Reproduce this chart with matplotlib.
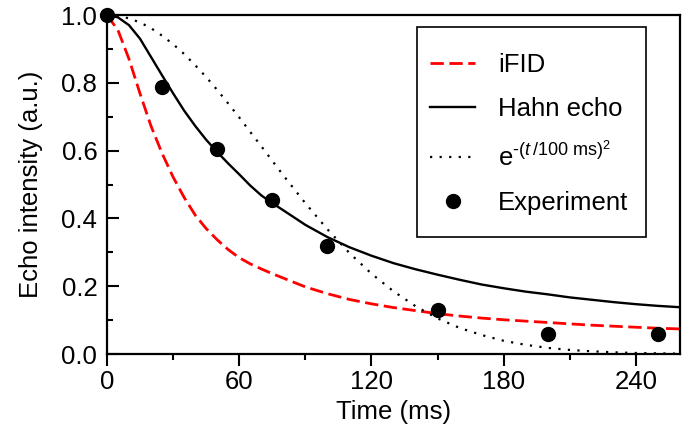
import matplotlib
matplotlib.use("Agg")
import matplotlib.pyplot as plt
from matplotlib.patches import Rectangle
from matplotlib.ticker import MultipleLocator, FormatStrFormatter

plt.rcParams['font.family'] = ['Liberation Sans', 'DejaVu Sans']
plt.rcParams['mathtext.fontset'] = 'custom'
plt.rcParams['mathtext.rm'] = 'Liberation Sans'
plt.rcParams['mathtext.it'] = 'Liberation Sans:italic'
plt.rcParams['mathtext.bf'] = 'Liberation Sans:bold'

# curve sample times (ms)
t_curve = [0, 5, 10, 15, 20, 25, 30, 35, 40, 45, 50, 55, 60, 65, 70, 75, 80, 90, 100,
           110, 120, 130, 140, 150, 160, 170, 180, 190, 200, 210, 220, 230, 240, 250, 260]

ifid = [1.0, 0.955, 0.87, 0.768, 0.672, 0.592, 0.522, 0.462, 0.41, 0.37, 0.337, 0.308, 0.284,
        0.266, 0.251, 0.237, 0.224, 0.198, 0.178, 0.161, 0.148, 0.137, 0.128, 0.119, 0.112,
        0.106, 0.101, 0.097, 0.093, 0.089, 0.085, 0.082, 0.079, 0.076, 0.074]

hahn = [1.0, 0.993, 0.97, 0.93, 0.876, 0.822, 0.769, 0.718, 0.673, 0.632, 0.596, 0.562, 0.53,
        0.497, 0.468, 0.445, 0.424, 0.381, 0.345, 0.315, 0.29, 0.268, 0.25, 0.234, 0.219,
        0.205, 0.194, 0.184, 0.176, 0.167, 0.16, 0.153, 0.147, 0.142, 0.138]

gauss = [1.0, 0.998, 0.990, 0.978, 0.961, 0.939, 0.914, 0.885, 0.852, 0.817, 0.779, 0.739,
         0.698, 0.655, 0.613, 0.570, 0.527, 0.445, 0.368, 0.298, 0.237, 0.185, 0.141, 0.105,
         0.077, 0.056, 0.039, 0.027, 0.018, 0.012, 0.008, 0.005, 0.003, 0.002, 0.001]

t_exp = [0, 25, 50, 75, 100, 150, 200, 250]
v_exp = [1.0, 0.787, 0.605, 0.455, 0.32, 0.13, 0.058, 0.058]

legend_labels = ['iFID', 'Hahn echo',
                 r'$\mathrm{e}^{\text{-}(\mathit{t}\,/100\ \mathrm{ms})^2}$', 'Experiment']

fig = plt.figure(figsize=(6.92, 4.34), dpi=100)
ax = fig.add_axes([0.1546, 0.1843, 0.8281, 0.7811])

ax.plot(t_curve, ifid, color='#ff0000', lw=2.0, dashes=(4.8, 2.0), label=legend_labels[0])
ax.plot(t_curve, hahn, color='black', lw=1.7, label=legend_labels[1])
ax.plot(t_curve, gauss, color='black', lw=1.6, dashes=(1, 3.3), label=legend_labels[2])
ax.plot(t_exp, v_exp, 'o', color='black', ms=10, clip_on=False, zorder=5, label=legend_labels[3])

ax.set_xlim(0, 260)
ax.set_ylim(0, 1.0)
ax.xaxis.set_major_locator(MultipleLocator(60))
ax.xaxis.set_minor_locator(MultipleLocator(30))
ax.yaxis.set_major_locator(MultipleLocator(0.2))
ax.yaxis.set_minor_locator(MultipleLocator(0.1))
ax.yaxis.set_major_formatter(FormatStrFormatter('%.1f'))

for s in ax.spines.values():
    s.set_linewidth(1.6)
ax.tick_params(axis='x', which='major', direction='out', length=8.5, width=1.5, labelsize=18.5, pad=3)
ax.tick_params(axis='x', which='minor', direction='out', length=4.5, width=1.5)
ax.tick_params(axis='y', which='major', direction='in', length=8.5, width=1.5, labelsize=18.5, pad=7)
ax.tick_params(axis='y', which='minor', direction='in', length=4.5, width=1.5)

ax.set_xlabel('Time (ms)', fontsize=18.5, labelpad=4)
ax.set_ylabel('Echo intensity (a.u.)', fontsize=18.5, labelpad=13)

# legend frame drawn as a separate rectangle
ax.add_patch(Rectangle((0.541, 0.345), 0.400, 0.620, transform=ax.transAxes,
                       facecolor='white', edgecolor='black', lw=1.2, zorder=6))
leg = ax.legend(loc='upper left', bbox_to_anchor=(0.564, 0.889), borderaxespad=0,
                fontsize=18.5, frameon=False, borderpad=0,
                handlelength=1.75, handletextpad=0.9, labelspacing=0.78)
leg.set_zorder(7)

fig.savefig('out.png', dpi=100)
